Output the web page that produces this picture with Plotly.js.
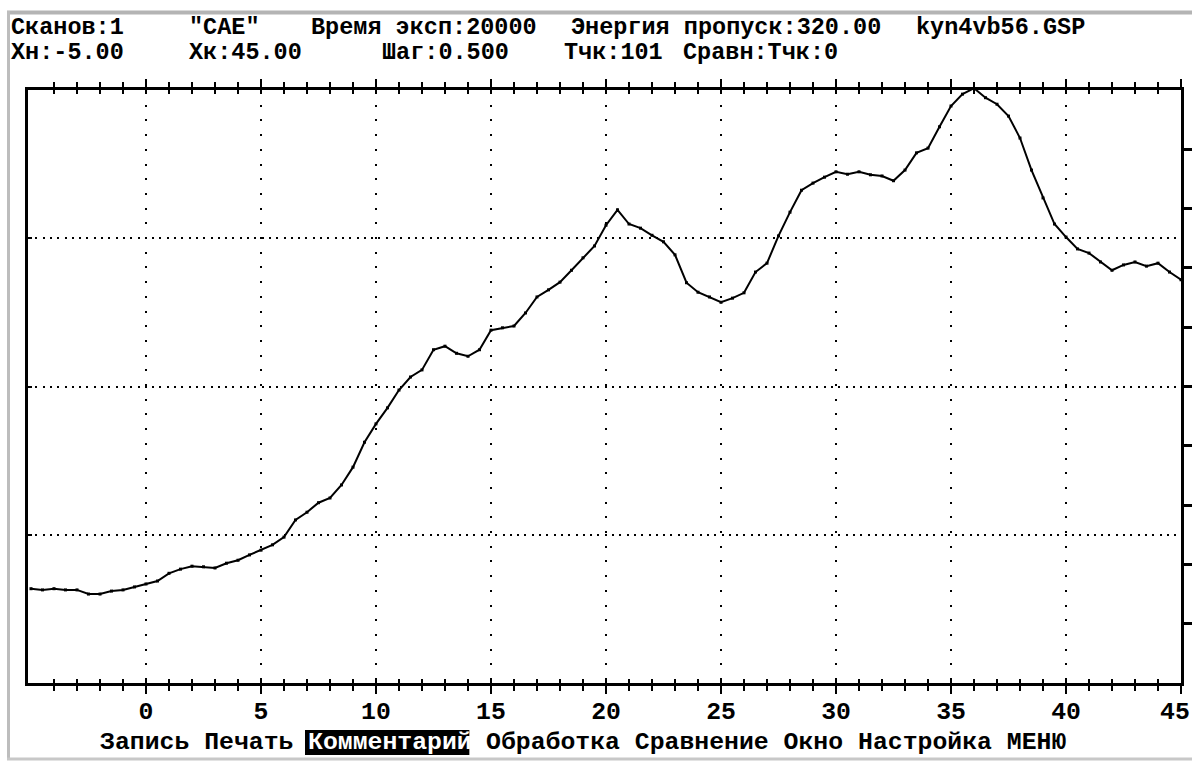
<!DOCTYPE html>
<html>
<head>
<meta charset="utf-8">
<script src="https://cdn.plot.ly/plotly-3.0.1.min.js"></script>
<style>
  html, body { margin: 0; padding: 0; background: #ffffff; overflow: hidden; }
  #chart { width: 1192px; height: 762px; }
</style>
</head>
<body>
<div id="chart"></div>
<script>
// ---- data (energy scan, x step 0.5, 101 points) ----
const xValues = [
  -5, -4.5, -4, -3.5, -3, -2.5, -2, -1.5, -1, -0.5,
  0, 0.5, 1, 1.5, 2, 2.5, 3, 3.5, 4, 4.5,
  5, 5.5, 6, 6.5, 7, 7.5, 8, 8.5, 9, 9.5,
  10, 10.5, 11, 11.5, 12, 12.5, 13, 13.5, 14, 14.5,
  15, 15.5, 16, 16.5, 17, 17.5, 18, 18.5, 19, 19.5,
  20, 20.5, 21, 21.5, 22, 22.5, 23, 23.5, 24, 24.5,
  25, 25.5, 26, 26.5, 27, 27.5, 28, 28.5, 29, 29.5,
  30, 30.5, 31, 31.5, 32, 32.5, 33, 33.5, 34, 34.5,
  35, 35.5, 36, 36.5, 37, 37.5, 38, 38.5, 39, 39.5,
  40, 40.5, 41, 41.5, 42, 42.5, 43, 43.5, 44, 44.5,
  45
];
const counts = [
  1.59, 1.57, 1.59, 1.57, 1.57, 1.50, 1.50, 1.55, 1.57, 1.62,
  1.67, 1.72, 1.85, 1.92, 1.97, 1.96, 1.94, 2.02, 2.07, 2.16,
  2.24, 2.33, 2.46, 2.75, 2.88, 3.04, 3.12, 3.34, 3.64, 4.06,
  4.37, 4.64, 4.94, 5.16, 5.28, 5.62, 5.68, 5.56, 5.51, 5.62,
  5.95, 5.99, 6.02, 6.24, 6.51, 6.63, 6.76, 6.96, 7.17, 7.37,
  7.72, 7.98, 7.74, 7.67, 7.55, 7.44, 7.22, 6.75, 6.59, 6.51,
  6.42, 6.49, 6.58, 6.93, 7.08, 7.54, 7.94, 8.31, 8.43, 8.53,
  8.62, 8.58, 8.62, 8.57, 8.55, 8.47, 8.65, 8.94, 9.02, 9.38,
  9.73, 9.93, 10.03, 9.87, 9.76, 9.56, 9.19, 8.65, 8.18, 7.74,
  7.52, 7.32, 7.25, 7.10, 6.96, 7.05, 7.10, 7.03, 7.08, 6.93,
  6.80
];
const xTickVals = [0, 5, 10, 15, 20, 25, 30, 35, 40, 45];
const xTickText = ["0", "5", "10", "15", "20", "25", "30", "35", "40", ""];
const lastTickLabel = "45";
const yGridVals = [2.5, 5, 7.5];
const yRightTickVals = [1, 2, 3, 4, 5, 6, 7, 8, 9];

// header texts
const headerRow1 = ["Сканов:1", "\"CAE\"", "Время эксп:20000", "Энергия пропуск:320.00", "kyn4vb56.GSP"];
const headerRow2 = ["Хн:-5.00", "Хк:45.00", "Шаг:0.500", "Тчк:101", "Сравн:Тчк:0"];
const menuLeft = "Запись Печать";
const menuActive = "Комментарий";
const menuRight = "Обработка Сравнение Окно Настройка МЕНЮ";

// ---- layout positions (pixels) ----
const row1X = [10, 188, 310, 570, 915];
const row2X = [10, 188, 381, 563, 682];
const L = 28, R = 1181, T = 90, B = 683;
const fx = p => (p - L) / (R - L);
const fy = p => (B - p) / (B - T);
const CELL = 14.85, COL0 = 10;
const colX = c => COL0 + CELL * c;

const FONT = { family: "Liberation Mono, DejaVu Sans Mono, monospace", size: 24.8, color: "#000", weight: "bold" };
const HFONT = Object.assign({}, FONT, { size: 23.5 });

const minorX = [];
for (let v = -4; v <= 44; v++) if (v % 5 !== 0) minorX.push(v);

const annotations = [];
function addText(text, xPix, yPix, font, color, anchor) {
  annotations.push({
    text: text, x: fx(xPix), y: fy(yPix), xref: "paper", yref: "paper",
    xanchor: anchor || "left", yanchor: "middle", showarrow: false, borderpad: 0,
    font: Object.assign({}, font, { color: color || "#000" })
  });
}
headerRow1.forEach((t, i) => addText(t, row1X[i], 27, HFONT));
headerRow2.forEach((t, i) => addText(t, row2X[i], 52, HFONT));
addText(menuLeft, colX(6), 742, FONT);
addText(menuActive, colX(20), 742, FONT, "#fff");
addText(menuRight, colX(32), 742, FONT);
addText(lastTickLabel, 1191, 712, FONT, "#000", "right");

const shapes = [
  { type: "line", xref: "paper", yref: "paper", x0: fx(7), x1: fx(1192), y0: fy(12.5), y1: fy(12.5), line: { color: "#b4b4b4", width: 4 } },
  { type: "line", xref: "paper", yref: "paper", x0: fx(8.5), x1: fx(8.5), y0: fy(11), y1: fy(760), line: { color: "#bdbdbd", width: 3 } },
  { type: "line", xref: "paper", yref: "paper", x0: fx(7), x1: fx(1192), y0: fy(759), y1: fy(759), line: { color: "#c8c8c8", width: 3 } },
  { type: "rect", xref: "paper", yref: "paper", x0: fx(colX(20) - 2), x1: fx(colX(31) - 1), y0: fy(755), y1: fy(730), fillcolor: "#000", line: { width: 0 }, layer: "above" }
];

const traces = [
  { x: xValues, y: counts, type: "scatter", mode: "lines+markers",
    line: { color: "#000", width: 2 }, marker: { color: "#000", size: 3, symbol: "square" },
    cliponaxis: false, hoverinfo: "skip", showlegend: false },
  { x: xValues, y: counts, xaxis: "x2", yaxis: "y", type: "scatter", mode: "none", hoverinfo: "skip", showlegend: false },
  { x: xValues, y: counts, xaxis: "x", yaxis: "y2", type: "scatter", mode: "none", hoverinfo: "skip", showlegend: false }
];

const layout = {
  width: 1192, height: 762,
  margin: { l: L, r: 1192 - R, t: T, b: 762 - B, pad: 0 },
  paper_bgcolor: "#ffffff", plot_bgcolor: "#ffffff",
  showlegend: false,
  xaxis: {
    range: [-5.13, 45], tickmode: "array", tickvals: xTickVals, ticktext: xTickText,
    ticks: "outside", ticklen: 8, tickwidth: 2, tickcolor: "#000",
    showline: true, linewidth: 3, linecolor: "#000", mirror: "ticks",
    showgrid: true, gridcolor: "#000", gridwidth: 2, griddash: "2px,12.7px",
    zeroline: false, tickfont: FONT, ticklabelstandoff: -5,
    minor: { tickmode: "array", tickvals: minorX, ticks: "outside", ticklen: 5, tickwidth: 2, tickcolor: "#000", showgrid: false },
    fixedrange: true
  },
  xaxis2: {
    overlaying: "x", anchor: "y", range: [-5.13, 45], tickmode: "array", tickvals: xTickVals,
    ticks: "inside", ticklen: 4, tickwidth: 2, tickcolor: "#000", mirror: "ticks",
    showticklabels: false, showgrid: false, showline: false, zeroline: false,
    minor: { tickmode: "array", tickvals: minorX, ticks: "inside", ticklen: 4, tickwidth: 2, tickcolor: "#000", showgrid: false },
    fixedrange: true
  },
  yaxis: {
    range: [0, 10], tickmode: "array", tickvals: yGridVals,
    ticks: "inside", ticklen: 4, tickwidth: 2, tickcolor: "#000",
    showticklabels: false,
    showline: true, linewidth: 3, linecolor: "#000", mirror: true,
    showgrid: true, gridcolor: "#000", gridwidth: 2, griddash: "2px,5.3px",
    zeroline: false, fixedrange: true
  },
  yaxis2: {
    overlaying: "y", anchor: "x", side: "right", range: [0, 10],
    tickmode: "array", tickvals: yRightTickVals,
    ticks: "outside", ticklen: 11, tickwidth: 3, tickcolor: "#000",
    showticklabels: false, showgrid: false, showline: false, zeroline: false, fixedrange: true
  },
  annotations: annotations,
  shapes: shapes
};

Plotly.newPlot("chart", traces, layout, { staticPlot: true, displayModeBar: false });
</script>
</body>
</html>
